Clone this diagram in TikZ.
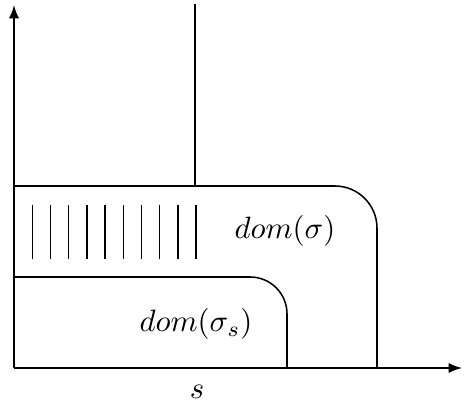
\documentclass[tikz,border=0pt]{standalone}
\usetikzlibrary{arrows}
\begin{document}
\begin{tikzpicture}[x=0.0114cm,y=-0.0114cm,
  axis/.style={-latex,line width=0.5pt},
  region/.style={line width=0.5pt},
  hatch/.style={line width=0.5pt}]
\useasboundingbox (0,0) rectangle (464,410);
\coordinate (O) at (14,368);
\coordinate (Ytop) at (14,5);
\coordinate (Xend) at (462,368);
\draw[axis] (O) -- (Ytop);
\draw[axis] (O) -- (Xend);
\draw[region] (195,4) -- (195,186);
\draw[region,rounded corners=0.48cm] (14,186) -- (377,186) -- (377,368);
\draw[region,rounded corners=0.42cm] (14,277) -- (287,277) -- (287,368);
\foreach \i in {0,...,9} {
  \draw[hatch] ({32.3+18.2*\i},205) -- ({32.3+18.2*\i},259);
}
\node (dom) at (285,231) {$dom(\sigma)$};
\node (doms) at (196,324) {$dom(\sigma_s)$};
\node (s) at (197,392) {$s$};
\end{tikzpicture}
\end{document}
